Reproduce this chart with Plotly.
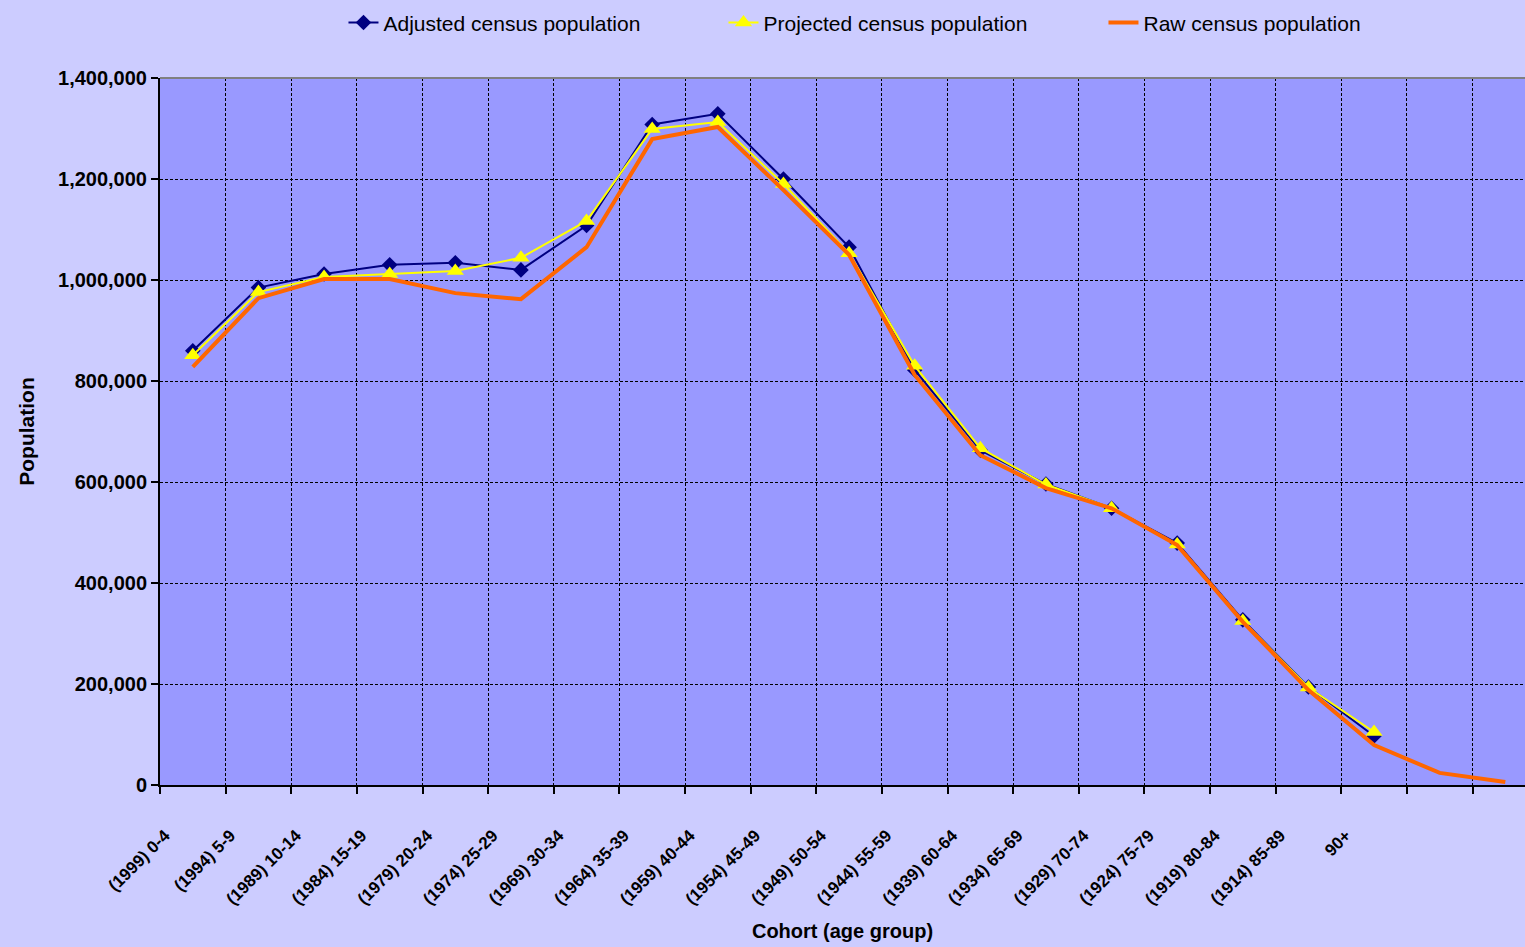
import plotly.graph_objects as go

cohorts = ["(1999) 0-4", "(1994) 5-9", "(1989) 10-14", "(1984) 15-19", "(1979) 20-24",
           "(1974) 25-29", "(1969) 30-34", "(1964) 35-39", "(1959) 40-44", "(1954) 45-49",
           "(1949) 50-54", "(1944) 55-59", "(1939) 60-64", "(1934) 65-69", "(1929) 70-74",
           "(1924) 75-79", "(1919) 80-84", "(1914) 85-89", "90+", " ", "  "]

adjusted = [860000, 985000, 1012000, 1030000, 1034000, 1020000, 1108000, 1308000, 1329000,
            1200000, 1065000, 822000, 663000, 596000, 548000, 479000, 327000, 194000, 97000]
projected = [851000, 976000, 1006000, 1012000, 1018000, 1044000, 1117000, 1299000, 1313000,
             1190000, 1053000, 830000, 667000, 595000, 548000, 476000, 325000, 193000, 105000]
raw = [828000, 964000, 1002000, 1002000, 974000, 962000, 1065000, 1279000, 1303000,
       1178000, 1050000, 812000, 653000, 588000, 548000, 475000, 323000, 188000, 79000,
       24000, 6000]

fig = go.Figure()

fig.add_trace(go.Scatter(
    x=cohorts[:len(adjusted)], y=adjusted, name="Adjusted census population",
    mode="lines+markers",
    line=dict(color="#000080", width=2),
    marker=dict(symbol="diamond", size=12, color="#000080")
))
fig.add_trace(go.Scatter(
    x=cohorts[:len(projected)], y=projected, name="Projected census population",
    mode="lines+markers",
    line=dict(color="#FFFF00", width=2),
    marker=dict(symbol="triangle-up", size=15, color="#FFFF00")
))
fig.add_trace(go.Scatter(
    x=cohorts, y=raw, name="Raw census population",
    mode="lines",
    line=dict(color="#FF6600", width=4)
))

# grey top edge of the plot area
fig.add_shape(type="line", xref="paper", yref="paper", x0=0, x1=1, y0=1, y1=1,
              line=dict(color="#808080", width=2))

fig.update_layout(
    width=1525, height=947,
    margin=dict(l=160, r=0, t=78, b=162),
    paper_bgcolor="#CCCCFF",
    plot_bgcolor="#9999FF",
    font=dict(family="Liberation Sans, Arial, sans-serif", color="black"),
    showlegend=True,
    legend=dict(
        orientation="h", x=0.552, xanchor="center", y=1.078, yanchor="middle",
        font=dict(size=21), bgcolor="rgba(0,0,0,0)",
        entrywidth=335, entrywidthmode="pixels"
    )
)

fig.update_xaxes(
    type="category", range=[-0.5, 20.3], tickson="boundaries",
    tickangle=-45, ticks="outside", ticklen=7, tickwidth=2, tickcolor="black",
    tickfont=dict(size=17, weight="bold"),
    ticklabelstandoff=32, ticklabelshift=-28,
    showline=True, linecolor="black", linewidth=2,
    showgrid=True, gridcolor="black", gridwidth=1, griddash="3px,2px",
    title=dict(text="<b>Cohort (age group)</b>", font=dict(size=20), standoff=16),
    fixedrange=True
)
fig.update_yaxes(
    range=[0, 1400000], dtick=200000, tickformat=",",
    ticks="outside", ticklen=7, tickwidth=2, tickcolor="black",
    tickfont=dict(size=20, weight="bold"),
    showline=True, linecolor="black", linewidth=2,
    showgrid=True, gridcolor="black", gridwidth=1, griddash="3px,2px",
    zeroline=False,
    title=dict(text="<b>Population</b>", font=dict(size=21), standoff=18),
    fixedrange=True
)

fig.write_html("out.html", config={"displayModeBar": False},
               post_script="document.body.style.margin='0';")
